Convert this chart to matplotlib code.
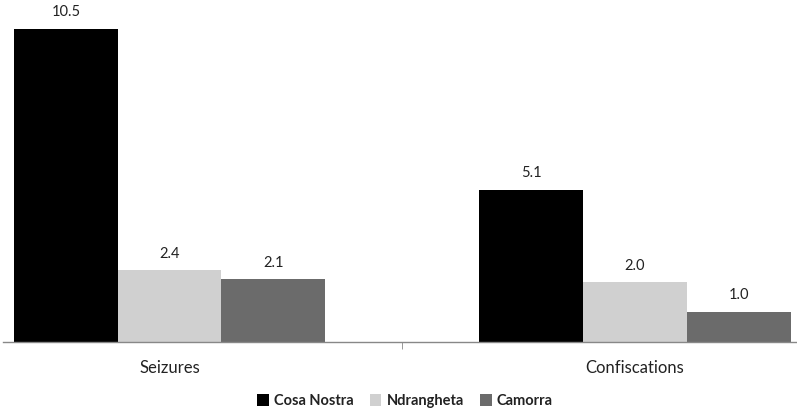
import matplotlib
matplotlib.use("Agg")
import matplotlib.pyplot as plt
import numpy as np
from matplotlib.patches import Patch

categories = ["Seizures", "Confiscations"]
series_names = ["Cosa Nostra", "Ndrangheta", "Camorra"]
cosa_nostra = [10.5, 5.1]
ndrangheta = [2.4, 2.0]
camorra = [2.1, 1.0]
values = [cosa_nostra, ndrangheta, camorra]
colors = ["#000000", "#d0d0d0", "#6b6b6b"]

plt.rcParams["font.family"] = ["Lato", "DejaVu Sans"]

W, H = 797, 413
fig = plt.figure(figsize=(W / 100, H / 100), dpi=100)
# axes placed in pixel terms: baseline at y=342, spans x 3..797
ax = fig.add_axes([3 / W, (H - 342) / H, 794 / W, (342 - 14) / H])

x = np.arange(len(categories))
bw = 0.2228
for i, (name, vals, c) in enumerate(zip(series_names, values, colors)):
    pos = x + (i - 1) * bw
    ax.bar(pos, vals, width=bw, color=c, label=name, linewidth=0)
    for xp, v in zip(pos, vals):
        ax.text(xp, v + 0.33, f"{v:.1f}", ha="center", va="bottom", fontsize=10.5, color="#222222")

ax.set_xlim(-0.358, 1.348)
ax.set_ylim(0, 11.0)

for s in ["top", "right", "left"]:
    ax.spines[s].set_visible(False)
ax.spines["bottom"].set_color("#888888")
ax.spines["bottom"].set_linewidth(1.0)
ax.set_yticks([])
ax.set_xticks(x)
ax.set_xticklabels(categories, fontsize=12, color="#222222")
ax.tick_params(axis="x", which="major", length=0, pad=13)
ax.set_xticks([0.5], minor=True)
ax.tick_params(axis="x", which="minor", length=5, color="#888888", direction="out")

handles = [Patch(facecolor=c, edgecolor="none") for c in colors]
leg = fig.legend(handles, series_names, loc="center", bbox_to_anchor=(405 / W, 1 - 401 / H),
                 ncol=3, frameon=False, handlelength=0.8, handleheight=0.8,
                 handletextpad=0.35, columnspacing=1.1,
                 prop={"weight": "bold", "size": 10.5})
for t in leg.get_texts():
    t.set_color("#222222")

fig.savefig("out.png", dpi=100)
